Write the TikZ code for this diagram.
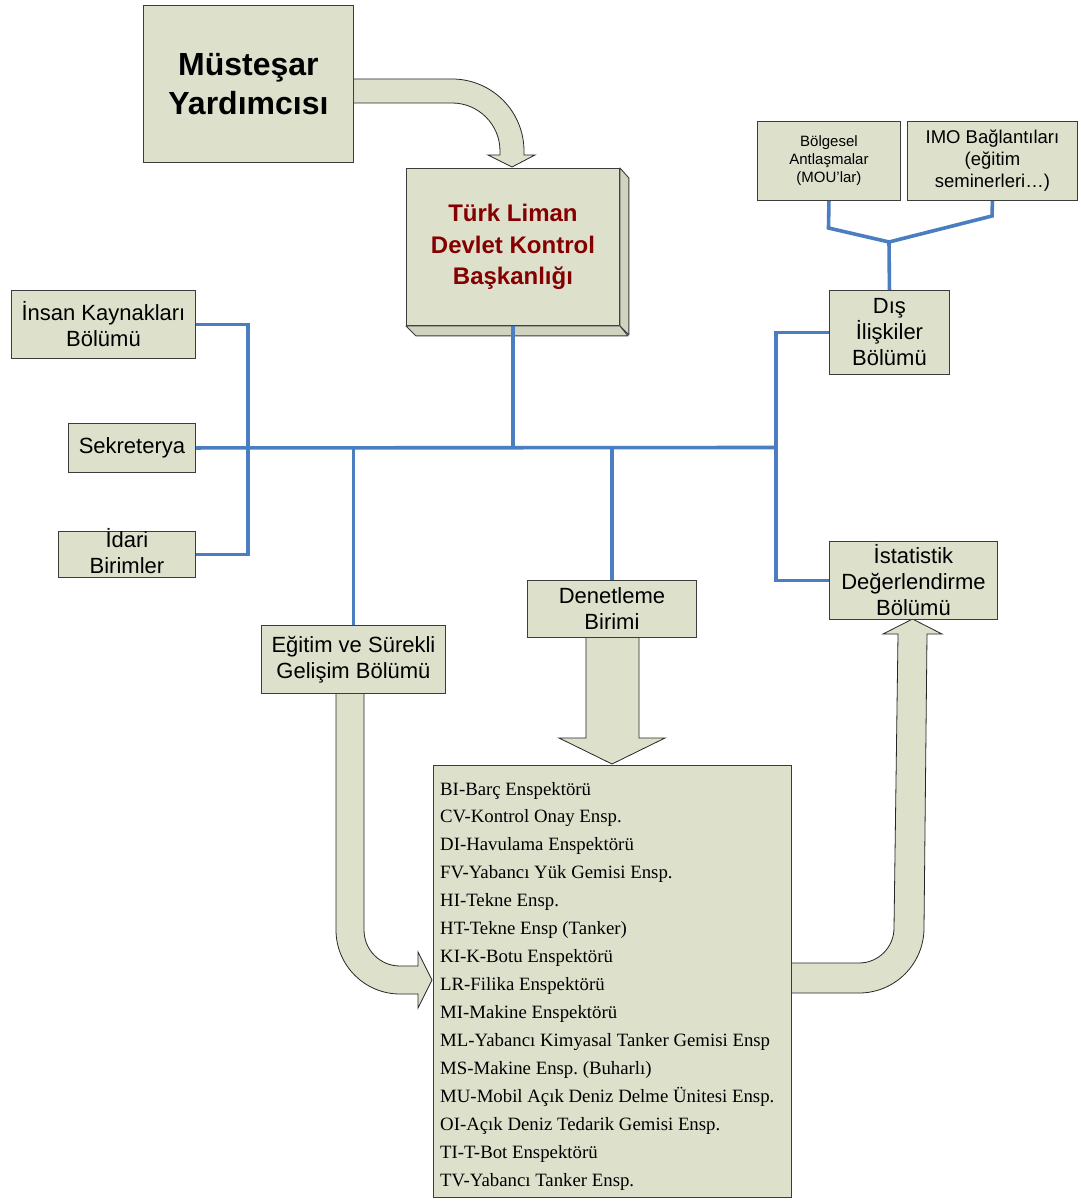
\documentclass[tikz,border=0pt]{standalone}
\usepackage{fontspec}
\setmainfont{Liberation Sans}
\newfontfamily\listfont{Liberation Serif}
\definecolor{boxfill}{RGB}{221,225,204}
\definecolor{boxline}{RGB}{60,60,60}
\definecolor{linkblue}{RGB}{74,126,193}
\definecolor{titlered}{RGB}{132,0,0}
\frenchspacing
\begin{document}
\begin{tikzpicture}[x=1pt,y=-1pt,
  box/.style={draw=boxline, fill=boxfill, line width=0.9pt, inner sep=0pt,
              align=center, anchor=north west},
  sideface/.style={draw=boxline, fill=boxfill!94!black, line width=0.9pt, line join=round},
  blockarrow/.style={draw=black!85, fill=boxfill, line width=0.8pt, line join=miter},
  link/.style={draw=linkblue, line width=3.6pt},
  txt/.style={font=\fontsize{22}{26}\selectfont},
  listtext/.style={font=\listfont\fontsize{18.8}{22}\selectfont, inner sep=0pt, anchor=base west}]

\fill[white] (0,0) rectangle (1080,1201);
\useasboundingbox (0,0) rectangle (1080,1201);

% ---- block arrows (drawn first, boxes cover their roots) ----
% Müsteşar Yardımcısı -> Başkanlık
\path[blockarrow] (353,79) -- (452,79) .. controls (491.8,79) and (524,111.2) .. (524,151)
  -- (524,155) -- (535,155) -- (512,167) -- (488,155) -- (500,155) -- (500,151)
  .. controls (500,124.5) and (478.5,103) .. (452,103) -- (353,103) -- cycle;
% Denetleme Birimi -> inspectors
\path[blockarrow] (586,637) -- (586,738) -- (559,738) -- (612,764) -- (665,738)
  -- (639,738) -- (639,637) -- cycle;
% Eğitim -> inspectors
\path[blockarrow] (336,693) -- (336,930) .. controls (336,965.3) and (364.7,994) .. (400,994)
  -- (418,994) -- (418,1008) -- (432,980) -- (418,952) -- (418,966) -- (400,966)
  .. controls (380.1,966) and (364,949.9) .. (364,930) -- (364,693) -- cycle;
% inspectors -> İstatistik
\path[blockarrow] (791,993) -- (859,993) .. controls (894.9,993) and (924,963.9) .. (924,928)
  -- (927,634) -- (942,634) -- (912.5,619) -- (883,634) -- (898,634) -- (894,928)
  .. controls (894,947.3) and (878.3,963) .. (859,963) -- (791,963) -- cycle;

% ---- boxes ----
\node[box, minimum width=210, minimum height=157,
      font=\bfseries\fontsize{32}{39}\selectfont] (must) at (143,5) {Müsteşar\\Yardımcısı};

\node[box, minimum width=213, minimum height=157, text=titlered,
      font=\bfseries\fontsize{24}{31.5}\selectfont] (turk) at (406,168)
      {Türk Liman\\Devlet Kontrol\\Başkanlığı};
\draw[sideface] (turk.north east) -- ++(9,10) -- ++(0,157) -- (turk.south east) -- cycle;
\draw[sideface] (turk.south west) -- ++(10,10) -- ++(212,0) -- (turk.south east) -- cycle;

\node[box, minimum width=143, minimum height=79,
      font=\fontsize{15}{18}\selectfont] (bolg) at (757,121)
      {Bölgesel\\Antlaşmalar\\(MOU’lar)};
\node[box, minimum width=170, minimum height=79,
      font=\fontsize{18.5}{22}\selectfont] (imo) at (907,121)
      {IMO Bağlantıları\\(eğitim\\seminerleri…)};
\node[box, minimum width=120, minimum height=84, txt] (dis) at (829,290)
      {Dış\\İlişkiler\\Bölümü};

\node[box, minimum width=184, minimum height=68, txt] (ik) at (11,290)
      {İnsan Kaynakları\\Bölümü};
\node[box, minimum width=127, minimum height=49, txt] (sek) at (68,423) {Sekreterya};
\node[box, minimum width=137, minimum height=46] (idari) at (58,531) {};
\node[txt, align=center, inner sep=0pt] (idariT) at ([yshift=3pt]idari.center) {İdari\\Birimler};

\node[box, minimum width=184, minimum height=68, txt] (egitim) at (261,625)
      {Eğitim ve Sürekli\\Gelişim Bölümü};
\node[box, minimum width=169, minimum height=57, txt] (denet) at (527,580)
      {Denetleme\\Birimi};
\node[box, minimum width=168, minimum height=78, txt] (ist) at (829,541)
      {İstatistik\\Değerlendirme\\Bölümü};

% ---- inspector list ----
\node[box, minimum width=358, minimum height=432] (insp) at (433,765) {};
\foreach \t [count=\i from 0] in {
    BI-Barç Enspektörü,
    CV-Kontrol Onay Ensp.,
    DI-Havulama Enspektörü,
    FV-Yabancı Yük Gemisi Ensp.,
    HI-Tekne Ensp.,
    HT-Tekne Ensp (Tanker),
    KI-K-Botu Enspektörü,
    LR-Filika Enspektörü,
    MI-Makine Enspektörü,
    ML-Yabancı Kimyasal Tanker Gemisi Ensp,
    MS-Makine Ensp. (Buharlı),
    MU-Mobil Açık Deniz Delme Ünitesi Ensp.,
    OI-Açık Deniz Tedarik Gemisi Ensp.,
    TI-T-Bot Enspektörü,
    TV-Yabancı Tanker Ensp.}
  \node[listtext] (item\i) at (440,{795+27.93*\i}) {\t};

% ---- organisation links ----
\coordinate (busR) at (776,447.5);
\coordinate (junc) at (889,242);
\coordinate (bolgBend) at (828.5,228);
\coordinate (imoBend) at (992,216);

\draw[link] (turk.south) -- (turk.south |- sek.east);
\draw[link] (sek.east) -- (busR);
\draw[link] (ik.east) -- ++(52,0) |- (idari.east);
\draw[link] (egitim.north) -- (egitim.north |- sek.east);
\draw[link] (denet.north) -- (denet.north |- sek.east);
\draw[link] (dis.west) -- ++(-53,0) |- (ist.west);
\draw[link] (dis.north) -- (junc);
\draw[link] (bolg.south) -- (bolgBend) -- (junc) -- (imoBend) -- (imo.south);
\end{tikzpicture}
\end{document}
